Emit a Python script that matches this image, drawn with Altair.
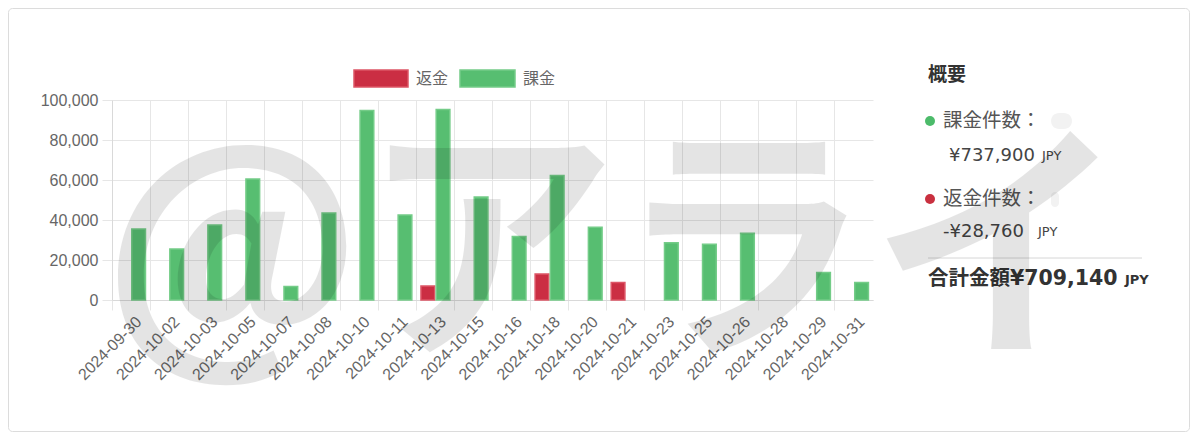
import altair as alt
import pandas as pd

dates = ["2024-09-30", "2024-10-02", "2024-10-03", "2024-10-05", "2024-10-07",
         "2024-10-08", "2024-10-10", "2024-10-11", "2024-10-13", "2024-10-15",
         "2024-10-16", "2024-10-18", "2024-10-20", "2024-10-21", "2024-10-23",
         "2024-10-25", "2024-10-26", "2024-10-28", "2024-10-29", "2024-10-31"]
charge = [35500, 25500, 37500, 60500, 6700, 43500, 94800, 42500, 95200, 51500,
          31800, 62300, 36400, 0, 28600, 27900, 33400, 0, 13800, 8800]
refund = [0, 0, 0, 0, 0, 0, 0, 0, 6980, 0, 0, 12980, 0, 8800, 0, 0, 0, 0, 0, 0]
series_names = ["返金", "課金"]
fill_colors = ["#cb2e43", "#57be71"]
stroke_colors = ["#dd5566", "#74cc88"]
y_ticks = [0, 20000, 40000, 60000, 80000, 100000]

summary_title = "概要"
summary_labels = ["課金件数：", "返金件数："]
summary_amounts = ["¥737,900", "-¥28,760"]
total_label = "合計金額¥709,140"
currency = "JPY"
watermark = "@アライ"

rows = []
for d, r, c in zip(dates, refund, charge):
    rows.append({"date": d, "series": series_names[0], "value": r})
    rows.append({"date": d, "series": series_names[1], "value": c})
df = pd.DataFrame(rows)
one = pd.DataFrame({"k": [0]})

LAB = "Liberation Sans, Noto Sans CJK JP"
JP = "Noto Sans CJK JP"
NUM = "DejaVu Sans, Noto Sans CJK JP"

bars = alt.Chart(df).transform_filter("datum.value > 0").mark_bar(strokeWidth=1.5).encode(
    x=alt.X("date:N", sort=dates,
            scale=alt.Scale(domain=dates, paddingInner=0, paddingOuter=0),
            axis=alt.Axis(title=None, bandPosition=0, labelAngle=-45, labelAlign="right",
                          labelBaseline="middle", labelOffset=8, labelPadding=9,
                          tickSize=10, tickColor="#e6e6e6", grid=True, gridColor="#e6e6e6",
                          domainColor="#d9d9d9", labelColor="#666", labelFontSize=16,
                          labelFont=LAB, labelOverlap=False, labelBound=False)),
    xOffset=alt.XOffset("series:N",
                        scale=alt.Scale(domain=series_names, paddingInner=0.1, paddingOuter=0.3)),
    y=alt.Y("value:Q", scale=alt.Scale(domain=[0, 100000], nice=False),
            axis=alt.Axis(title=None, values=y_ticks, format=",d", tickSize=10,
                          tickColor="#e6e6e6", grid=True, gridColor="#e6e6e6",
                          domainColor="#d9d9d9", labelColor="#666", labelFontSize=16,
                          labelFont=LAB, labelPadding=4)),
    fill=alt.Fill("series:N", scale=alt.Scale(domain=series_names, range=fill_colors), legend=None),
    stroke=alt.Stroke("series:N", scale=alt.Scale(domain=series_names, range=stroke_colors), legend=None),
)

def rect(x, x2, y, y2, **kw):
    return alt.Chart(one).mark_rect(**kw).encode(
        x=alt.value(x), x2=alt.value(x2), y=alt.value(y), y2=alt.value(y2))

def text(t, x, y, baseline="middle", **kw):
    return alt.Chart(one).mark_text(text=t, align="left", baseline=baseline, **kw).encode(
        x=alt.value(x), y=alt.value(y))

def dot(x, y, color):
    return alt.Chart(one).mark_circle(size=100, opacity=1, color=color).encode(
        x=alt.value(x), y=alt.value(y))

border = rect(-103.5, 1077.5, -91.5, 331.5, fillOpacity=0, stroke="#dcdcdc",
              strokeWidth=1, cornerRadius=4)

legend = [
    rect(242, 296, -30, -13, fill=fill_colors[0], stroke=stroke_colors[0], strokeWidth=1.5),
    text(series_names[0], 304, -21.5, fontSize=16, color="#666", font=JP),
    rect(348, 403, -30, -13, fill=fill_colors[1], stroke=stroke_colors[1], strokeWidth=1.5),
    text(series_names[1], 411, -21.5, fontSize=16, color="#666", font=JP),
]

panel = [
    text(summary_title, 816, -25, fontSize=19, fontWeight="bold", color="#333", font=JP),
    dot(818, 21, "#4cbb6a"),
    text(summary_labels[0], 831, 21, fontSize=19.5, color="#555", font=JP),
    rect(939, 960, 13, 29, fill="#d9d9d9", opacity=0.35, cornerRadius=8),
    text(summary_amounts[0], 837, 61, baseline="alphabetic", fontSize=18, color="#444", font=NUM),
    text(currency, 930, 60, baseline="alphabetic", fontSize=13, color="#444", font=NUM),
    dot(818, 99, "#c9303f"),
    text(summary_labels[1], 831, 99, fontSize=19.5, color="#555", font=JP),
    rect(939, 947, 92, 107, fill="#d9d9d9", opacity=0.35, cornerRadius=4),
    text(summary_amounts[1], 831, 137, baseline="alphabetic", fontSize=18, color="#444", font=NUM),
    text(currency, 926, 136, baseline="alphabetic", fontSize=13, color="#444", font=NUM),
    alt.Chart(one).mark_rule(color="#d6d6d6", strokeWidth=1).encode(
        x=alt.value(816), x2=alt.value(1030), y=alt.value(158)),
    text(total_label, 816, 185, baseline="alphabetic", fontSize=20.5, fontWeight="bold",
         color="#333", font=NUM),
    text(currency, 1013, 184, baseline="alphabetic", fontSize=13, fontWeight="bold",
         color="#333", font=NUM),
]

wm = alt.Chart(one).mark_text(text=watermark, align="center", baseline="middle",
                              fontSize=255, fontWeight="bold", color="#000", opacity=0.1,
                              font="Noto Sans CJK JP").encode(
    x=alt.value(503), y=alt.value(160))

chart = alt.layer(border, bars, *legend, *panel, wm).properties(
    width=761, height=200,
    autosize=alt.AutoSizeParams(type="none"),
    padding={"left": 104, "top": 92, "right": 317, "bottom": 132},
    background="white",
).configure_view(stroke=None)

chart.save("out.html", embed_options={"renderer": "svg", "actions": False})
